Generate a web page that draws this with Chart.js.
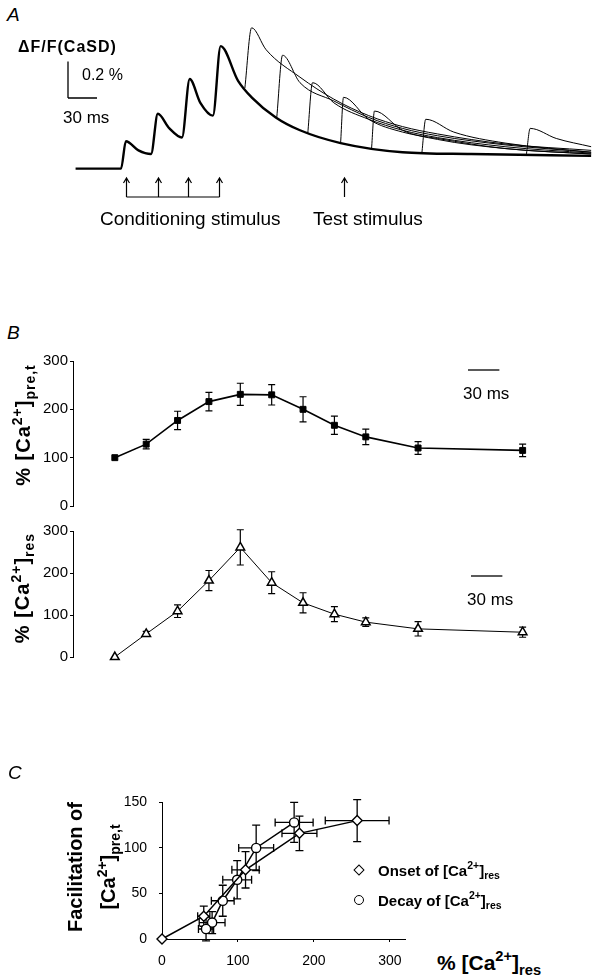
<!DOCTYPE html>
<html>
<head>
<meta charset="utf-8">
<script src="https://cdn.jsdelivr.net/npm/chart.js@4.4.1/dist/chart.umd.min.js"></script>
<style>
  body { margin: 0; background: #fff; }
  #fig { position: relative; width: 597px; height: 978px; overflow: hidden;
         font-family: "Liberation Sans", Arial, Helvetica, sans-serif; color: #000; }
  #fig canvas { position: absolute; }
  .lb { position: absolute; white-space: nowrap; line-height: 1; transform: translateY(-50%); }
  .rot { position: absolute; white-space: nowrap; line-height: 1; font-weight: bold; text-align: center;
         transform: translate(-50%, -50%) rotate(-90deg); }
  .pn { font-style: italic; font-size: 19px; }
  sup, sub { font-size: 0.7em; line-height: 0; }
  sup { vertical-align: 0.6em; }
  sub { vertical-align: -0.35em; }
  .mk { position: absolute; box-sizing: border-box; border: 1.5px solid #000; background: #fff; }
</style>
</head>
<body>
<div id="fig">
  <canvas id="chartA" width="532" height="247" style="left:63px;top:4px"></canvas>
  <canvas id="chartB1" width="541" height="167" style="left:23px;top:350px"></canvas>
  <canvas id="chartB2" width="541" height="148" style="left:23px;top:520px"></canvas>
  <canvas id="chartC" width="303" height="191" style="left:112px;top:782px"></canvas>

  <div class="lb pn" style="left:7px;top:14px">A</div>
  <div class="lb" style="left:18px;top:47px;font-weight:bold;font-size:16px;letter-spacing:1px">ΔF/F(CaSD)</div>
  <div class="lb" style="left:82px;top:75px;font-size:16px">0.2 %</div>
  <div class="lb" style="left:63px;top:117px;font-size:17px">30 ms</div>
  <div class="lb" style="left:100px;top:218px;font-size:19px">Conditioning stimulus</div>
  <div class="lb" style="left:313px;top:218px;font-size:19px">Test stimulus</div>

  <div class="lb pn" style="left:7px;top:332px">B</div>
  <div class="rot" style="left:23px;top:425px;font-size:20px;letter-spacing:1px">% [Ca<sup>2+</sup>]<sub>pre,t</sub></div>
  <div class="rot" style="left:22px;top:588px;font-size:20px;letter-spacing:1px">% [Ca<sup>2+</sup>]<sub>res</sub></div>
  <div class="lb" style="left:463px;top:393px;font-size:17px">30 ms</div>
  <div class="lb" style="left:467px;top:599px;font-size:17px">30 ms</div>

  <div class="lb pn" style="left:8px;top:772px">C</div>
  <div class="rot" style="left:92px;top:867px;font-size:20px;line-height:33px">Facilitation of<br>[Ca<sup>2+</sup>]<sub>pre,t</sub></div>
  <div class="lb" style="left:437px;top:962px;font-size:21px;font-weight:bold">% [Ca<sup>2+</sup>]<sub>res</sub></div>
  <div class="mk" style="left:355px;top:866px;width:8px;height:8px;transform:rotate(45deg)"></div>
  <div class="lb" style="left:378px;top:870px;font-size:15px;font-weight:bold">Onset of [Ca<sup>2+</sup>]<sub>res</sub></div>
  <div class="mk" style="left:354px;top:895px;width:10px;height:10px;border-radius:50%"></div>
  <div class="lb" style="left:378px;top:900px;font-size:15px;font-weight:bold">Decay of [Ca<sup>2+</sup>]<sub>res</sub></div>
</div>
<script>
// A: CaSD fluorescence traces, time in ms from 1st conditioning stimulus, dF/F in %
const ctrlT = [-47, 0, 5, 18, 31, 38, 50, 63, 71, 82, 95, 103, 121, 135, 160, 185, 227, 291, 362, 486];
const ctrlV = [0, 0, 0.15, 0.10, 0.08, 0.30, 0.22, 0.17, 0.49, 0.36, 0.29, 0.67, 0.48, 0.39, 0.28, 0.21, 0.14, 0.09, 0.08, 0.07];
const test1T = [128, 135, 150, 185, 220, 256, 291, 327, 397, 486];
const test1V = [0.44, 0.77, 0.65, 0.50, 0.38, 0.29, 0.23, 0.19, 0.135, 0.10];
const test2T = [161, 167, 185, 220, 256, 291, 327, 397, 486];
const test2V = [0.28, 0.62, 0.47, 0.37, 0.28, 0.22, 0.18, 0.13, 0.09];
const test3T = [193, 198, 220, 256, 291, 327, 397, 486];
const test3V = [0.19, 0.47, 0.36, 0.27, 0.21, 0.17, 0.12, 0.085];
const test4T = [227, 230, 256, 291, 327, 397, 486];
const test4V = [0.14, 0.39, 0.27, 0.20, 0.165, 0.11, 0.08];
const test5T = [259, 262, 291, 327, 397, 486];
const test5V = [0.11, 0.315, 0.21, 0.16, 0.11, 0.08];
const test6T = [311, 315, 344, 397, 486];
const test6V = [0.085, 0.27, 0.20, 0.14, 0.09];
const test7T = [419, 423, 450, 486];
const test7V = [0.075, 0.22, 0.165, 0.12];
const condStim = [5, 38, 69, 101];
const testStim = [230];

// B: time course (ms) of % [Ca2+]pre,t and % [Ca2+]res, mean +- SEM
const bTime = [0, 30, 60, 90, 120, 150, 180, 210, 240, 290, 390];
const preT = [100, 128, 177, 216, 231, 230, 200, 167, 143, 120, 115];
const preTErr = [0, 10, 19, 19, 23, 21, 26, 19, 16, 13, 13];
const resV = [0, 55, 109, 182, 261, 177, 129, 102, 83, 67, 59];
const resErr = [0, 6, 15, 24, 42, 26, 24, 18, 10, 17, 12];

// C: facilitation of [Ca2+]pre,t vs % [Ca2+]res
const onsetX = [0, 55, 110, 181, 257];
const onsetY = [0, 25, 76, 116, 130];
const onsetXErr = [0, 8, 18, 23, 42];
const onsetYErr = [0, 11, 20, 19, 23];
const decayX = [174, 124, 99, 80, 66, 58];
const decayY = [128, 100, 65, 42, 18, 11];
const decayXErr = [25, 23, 19, 15, 17, 10];
const decayYErr = [22, 25, 21, 17, 12, 13];
const cTicksX = [0, 100, 200, 300];

Chart.defaults.font.family = '"Liberation Sans", Arial, Helvetica, sans-serif';
Chart.defaults.color = '#000';

const pts = (xs, ys) => xs.map((x, i) => ({x: x, y: ys[i]}));

// error bars (x and/or y) drawn under the markers
const errorBars = {
  id: 'errorBars',
  beforeDatasetsDraw(chart, args, o) {
    const {ctx, scales: {x, y}} = chart;
    const cap = o.cap || 4;
    ctx.save();
    ctx.strokeStyle = '#000';
    ctx.lineWidth = o.width || 1.2;
    chart.data.datasets.forEach(ds => {
      if (!ds.yErr && !ds.xErr) return;
      ds.data.forEach((p, i) => {
        const px = x.getPixelForValue(p.x), py = y.getPixelForValue(p.y);
        ctx.beginPath();
        if (ds.yErr && ds.yErr[i]) {
          const y1 = y.getPixelForValue(p.y + ds.yErr[i]);
          const y2 = y.getPixelForValue(p.y - ds.yErr[i]);
          ctx.moveTo(px, y1); ctx.lineTo(px, y2);
          ctx.moveTo(px - cap, y1); ctx.lineTo(px + cap, y1);
          ctx.moveTo(px - cap, y2); ctx.lineTo(px + cap, y2);
        }
        if (ds.xErr && ds.xErr[i]) {
          const x1 = x.getPixelForValue(p.x - ds.xErr[i]);
          const x2 = x.getPixelForValue(p.x + ds.xErr[i]);
          ctx.moveTo(x1, py); ctx.lineTo(x2, py);
          ctx.moveTo(x1, py - cap); ctx.lineTo(x1, py + cap);
          ctx.moveTo(x2, py - cap); ctx.lineTo(x2, py + cap);
        }
        ctx.stroke();
      });
    });
    ctx.restore();
  }
};

// scale bars, length taken from the chart scales
const scaleBar = {
  id: 'scaleBar',
  afterDraw(chart, args, o) {
    if (o.x0 === undefined) return;
    const {ctx, scales: {x, y}} = chart;
    ctx.save();
    ctx.strokeStyle = '#000';
    ctx.lineWidth = 1.3;
    ctx.beginPath();
    if (o.dx) {
      const len = x.getPixelForValue(o.dx) - x.getPixelForValue(0);
      ctx.moveTo(o.x0, o.y0); ctx.lineTo(o.x0 + len, o.y0);
    }
    if (o.dy) {
      const h = y.getPixelForValue(0) - y.getPixelForValue(o.dy);
      ctx.moveTo(o.x0, o.y0); ctx.lineTo(o.x0, o.y0 - h);
    }
    ctx.stroke();
    ctx.restore();
  }
};

// stimulus arrows under the traces
const stimArrows = {
  id: 'stimArrows',
  afterDraw(chart, args, o) {
    const {ctx, scales: {x}} = chart;
    ctx.save();
    ctx.strokeStyle = '#000';
    ctx.lineWidth = 1.2;
    const arrow = t => {
      const px = Math.round(x.getPixelForValue(t)) + 0.5;
      ctx.beginPath();
      ctx.moveTo(px, o.base); ctx.lineTo(px, o.tip);
      ctx.moveTo(px - 3, o.tip + 5); ctx.lineTo(px, o.tip); ctx.lineTo(px + 3, o.tip + 5);
      ctx.stroke();
      return px;
    };
    const xs = condStim.map(arrow);
    ctx.beginPath();
    ctx.moveTo(xs[0], o.base); ctx.lineTo(xs[xs.length - 1], o.base);
    ctx.stroke();
    testStim.forEach(arrow);
    ctx.restore();
  }
};

const trace = (ts, vs, w) => ({
  data: pts(ts, vs), borderColor: '#000', borderWidth: w, pointRadius: 0,
  cubicInterpolationMode: 'monotone', fill: false
});

new Chart(document.getElementById('chartA'), {
  type: 'line',
  data: {
    datasets: [
      trace(test7T, test7V, 1), trace(test6T, test6V, 1), trace(test5T, test5V, 1),
      trace(test4T, test4V, 1), trace(test3T, test3V, 1), trace(test2T, test2V, 1),
      trace(test1T, test1V, 1), trace(ctrlT, ctrlV, 2.4)
    ]
  },
  options: {
    responsive: false, animation: false, devicePixelRatio: 1,
    layout: {padding: 0},
    plugins: {
      legend: {display: false}, tooltip: {enabled: false},
      scaleBar: {x0: 5, y0: 94, dx: 30, dy: 0.2},
      stimArrows: {tip: 174, base: 193}
    },
    scales: {
      x: {type: 'linear', min: -60, max: 490, display: false},
      y: {min: -0.45, max: 0.9, display: false}
    }
  },
  plugins: [scaleBar, stimArrows]
});

function timeCourse(id, vals, errs, style, bar) {
  return new Chart(document.getElementById(id), {
    type: 'line',
    data: {datasets: [Object.assign({data: pts(bTime, vals), yErr: errs, borderColor: '#000',
      pointBorderColor: '#000', fill: false, tension: 0, clip: false}, style)]},
    options: {
      responsive: false, animation: false, devicePixelRatio: 1,
      layout: {padding: {top: 10, bottom: 10, left: 0, right: 10}},
      plugins: {
        legend: {display: false}, tooltip: {enabled: false},
        errorBars: {cap: 3.5, width: 1.2},
        scaleBar: bar
      },
      scales: {
        x: {type: 'linear', min: -40, max: 420, display: false},
        y: {
          min: 0, max: 300,
          ticks: {stepSize: 100, padding: 2, font: {size: 15}},
          grid: {drawOnChartArea: false, color: '#000', tickLength: 3},
          border: {color: '#000', width: 1},
          afterFit(s) { s.width = 50; }
        }
      }
    },
    plugins: [errorBars, scaleBar]
  });
}

timeCourse('chartB1', preT, preTErr,
  {borderWidth: 1.6, pointStyle: 'rect', pointRadius: 4.2, pointBackgroundColor: '#000', pointBorderWidth: 1},
  {x0: 445, y0: 20, dx: 30});
timeCourse('chartB2', resV, resErr,
  {borderWidth: 1, pointStyle: 'triangle', pointRadius: 5, pointBackgroundColor: '#fff', pointBorderWidth: 1.5},
  {x0: 448, y0: 56, dx: 30});

new Chart(document.getElementById('chartC'), {
  type: 'line',
  data: {
    datasets: [
      {label: 'Onset', data: pts(onsetX, onsetY), xErr: onsetXErr, yErr: onsetYErr,
       borderColor: '#000', borderWidth: 1.5, fill: false, tension: 0, clip: false,
       pointStyle: 'rectRot', pointRadius: 5, pointBackgroundColor: '#fff',
       pointBorderColor: '#000', pointBorderWidth: 1.4},
      {label: 'Decay', data: pts(decayX, decayY), xErr: decayXErr, yErr: decayYErr,
       borderColor: '#000', borderWidth: 1.5, fill: false, tension: 0, clip: false,
       pointStyle: 'circle', pointRadius: 4.6, pointBackgroundColor: '#fff',
       pointBorderColor: '#000', pointBorderWidth: 1.4}
    ]
  },
  options: {
    responsive: false, animation: false, devicePixelRatio: 1,
    layout: {padding: {top: 10, bottom: 0, left: 0, right: 10}},
    plugins: {legend: {display: false}, tooltip: {enabled: false}, errorBars: {cap: 4, width: 1.3}},
    scales: {
      x: {
        type: 'linear', min: 0, max: 320,
        afterBuildTicks(s) { s.ticks = cTicksX.map(v => ({value: v})); },
        ticks: {padding: 11, maxRotation: 0, autoSkip: false, font: {size: 14}},
        grid: {drawOnChartArea: false, color: '#000', tickLength: 3},
        border: {color: '#000', width: 1},
        afterFit(s) { s.height = 34; }
      },
      y: {
        min: 0, max: 150,
        ticks: {stepSize: 50, padding: 12, font: {size: 14}},
        grid: {drawOnChartArea: false, color: '#000', tickLength: 3},
        border: {color: '#000', width: 1},
        afterFit(s) { s.width = 50; }
      }
    }
  },
  plugins: [errorBars]
});
</script>
</body>
</html>
